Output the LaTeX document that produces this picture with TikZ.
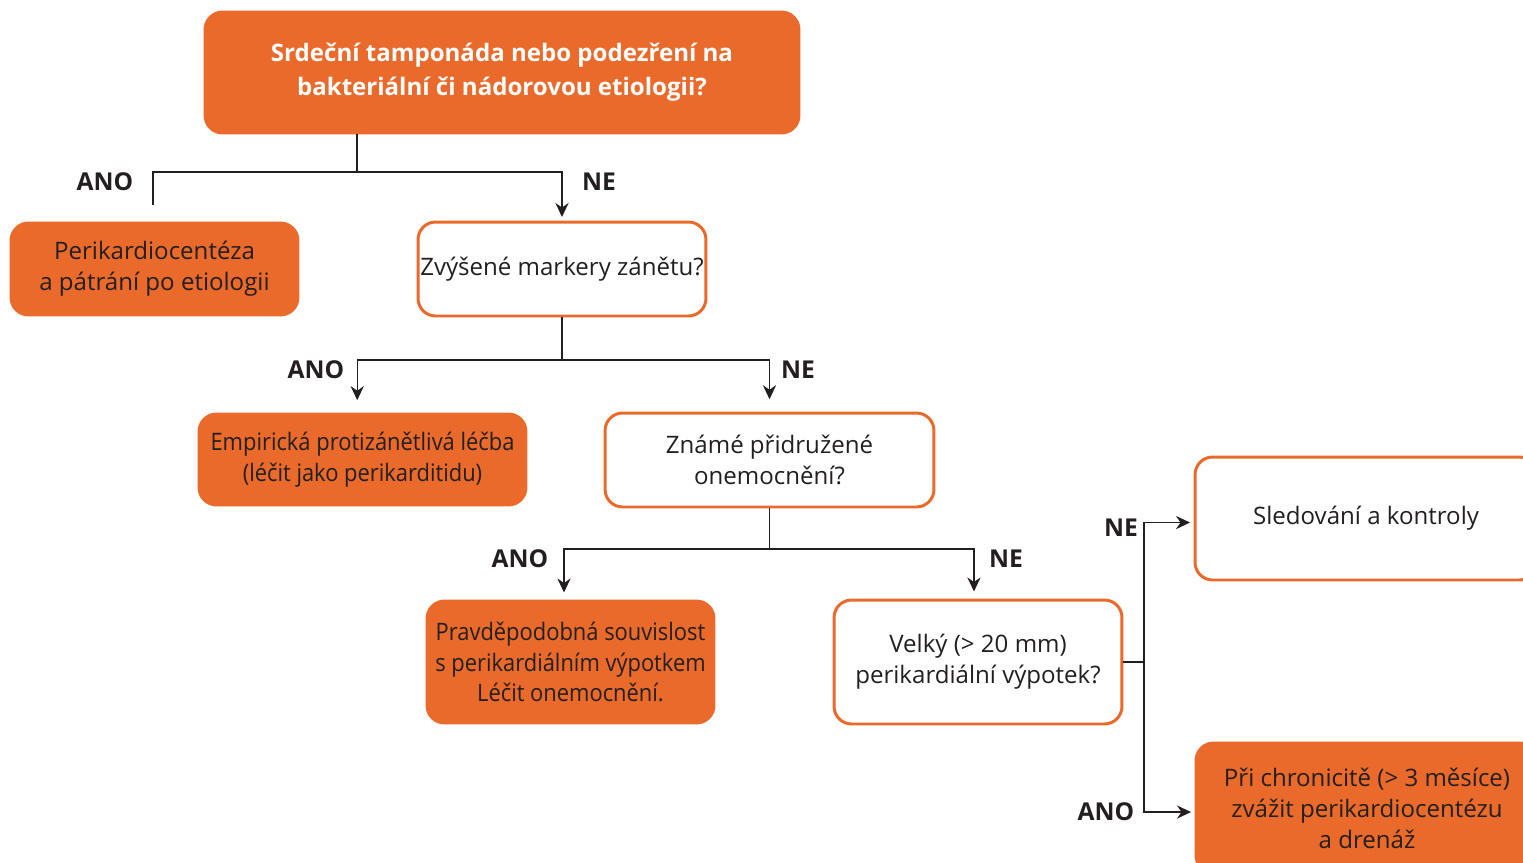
\documentclass[tikz,border=0pt]{standalone}
\usepackage{fontspec}
\setmainfont{Open Sans}
\newfontfamily\narrowfont[FakeStretch=0.91]{Open Sans}
\usetikzlibrary{calc,positioning,arrows.meta}
\usepackage{xcolor}
\definecolor{orangebox}{HTML}{E96A2A}
\definecolor{darktext}{HTML}{231F20}

\tikzset{
    box/.style={rectangle, rounded corners=10pt, draw=orangebox, line width=1.7pt,
        align=center, text=darktext, inner sep=0pt,
        font=\fontsize{13.7}{17.6}\selectfont},
    fullbox/.style={box, fill=orangebox},
    emptybox/.style={box, fill=white},
    answer/.style={text=darktext, font=\bfseries\fontsize{14}{17}\selectfont},
    line/.style={draw=darktext, line width=0.8pt},
    arrow/.style={line, -{Stealth[length=8pt,width=7.5pt]}, shorten >=2pt}
}

\begin{document}
\begin{tikzpicture}[x=0.02cm, y=-0.02cm]

    \useasboundingbox (0,0) rectangle (1523,862);
    \clip (0,0) rectangle (1523,862);

    %boxes
    \draw (502,72.5) node[fullbox, minimum width=11.88cm, minimum height=2.42cm,
        text=white, font=\bfseries\fontsize{13.7}{19.5}\selectfont] (top)
        {Srdeční tamponáda nebo podezření na\\bakteriální či nádorovou etiologii?};
    \draw (154.5,269) node[fullbox, minimum width=5.74cm, minimum height=1.84cm] (peri)
        {Perikardiocentéza\\a pátrání po etiologii};
    \draw (562,269) node[emptybox, minimum width=5.76cm, minimum height=1.88cm] (zvys)
        {Zvýšené markery zánětu?};
    \draw (362.5,459.5) node[fullbox, minimum width=6.54cm, minimum height=1.82cm] (empir)
        {\narrowfont Empirická protizánětlivá léčba\\\narrowfont(léčit jako perikarditidu)};
    \draw (769.5,460) node[emptybox, minimum width=6.58cm, minimum height=1.88cm] (zname)
        {Známé přidružené\\onemocnění?};
    \draw (570.5,662) node[fullbox, minimum width=5.74cm, minimum height=2.44cm] (pravd)
        {\narrowfont Pravděpodobná souvislost\\\narrowfont s perikardiálním výpotkem\\\narrowfont Léčit onemocnění.};
    \draw (978,662) node[emptybox, minimum width=5.76cm, minimum height=2.48cm] (velky)
        {Velký (> 20 mm)\\perikardiální výpotek?};
    \draw (1366,518.5) node[emptybox, minimum width=6.84cm, minimum height=2.46cm] (sled)
        {Sledování a kontroly};
    \draw (1367,808) node[fullbox, minimum width=6.84cm, minimum height=2.6cm] (chron)
        {Při chronicitě (> 3 měsíce)\\zvážit perikardiocentézu\\a drenáž};

    %junctions
    \coordinate (j1) at (357,172);
    \coordinate (ano1) at (153,205);
    \coordinate (j2) at (562,360);
    \coordinate (j3) at (769.5,549);
    \coordinate (j4) at (1144,662);

    %connectors
    \draw [line] (top.south -| j1) -- (j1);
    \draw [line] (j1) -| (ano1);
    \draw [arrow] (j1) -| (zvys.north);
    \draw [line] (zvys.south) -- (j2);
    \draw [arrow, shorten >=7pt] (j2) -| ([xshift=-3pt]empir.north);
    \draw [arrow, shorten >=7pt] (j2) -| (zname.north);
    \draw [line] (zname.south) -- (j3);
    \draw [arrow, shorten >=4pt] (j3) -| ([xshift=-3.7pt]pravd.north);
    \draw [arrow, shorten >=4pt] (j3) -| ([xshift=-2.3pt]velky.north);
    \draw [line] (velky.east) -- (j4);
    \draw [arrow] (j4) |- ([yshift=-2.3pt]sled.west);
    \draw [arrow] (j4) |- ([yshift=-2.3pt]chron.west);

    %labels
    \draw (105,182) node[answer] (l1) {ANO};
    \draw (599,182) node[answer] (l2) {NE};
    \draw (316,370) node[answer] (l3) {ANO};
    \draw (798,370) node[answer] (l4) {NE};
    \draw (520,559) node[answer] (l5) {ANO};
    \draw (1006,559) node[answer] (l6) {NE};
    \draw (1121,528) node[answer] (l7) {NE};
    \draw (1106,812) node[answer] (l8) {ANO};

\end{tikzpicture}
\end{document}
